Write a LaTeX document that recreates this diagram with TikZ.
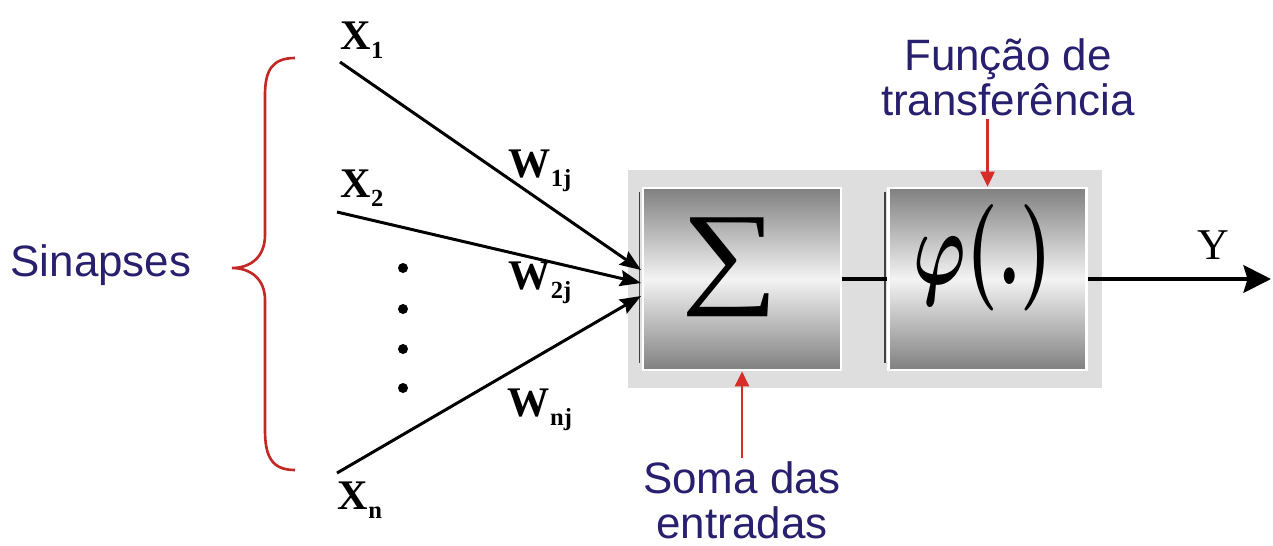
\documentclass[tikz,border=0pt]{standalone}
\usepackage{fontspec}
\setmainfont{Liberation Serif}
\newfontfamily\labfont{Liberation Sans}
\usetikzlibrary{arrows.meta}

\definecolor{navytext}{RGB}{40,32,110}
\definecolor{markred}{RGB}{215,45,40}
\definecolor{panelgray}{RGB}{222,222,222}
\definecolor{shadedark}{RGB}{128,128,128}
\definecolor{shadelight}{RGB}{243,243,243}
\newcommand{\wsub}[2]{#1\raisebox{-0.45ex}{\fontsize{14}{14}\selectfont #2}}

\begin{document}
\begin{tikzpicture}
\useasboundingbox (0,0) rectangle (25.46,-10.9);

\tikzset{
  blockbox/.style={draw=white, line width=1.5pt, minimum width=3.96cm, minimum height=3.64cm,
    top color=shadedark, bottom color=shadedark, middle color=shadelight},
  caption/.style={text=navytext, font=\labfont\fontsize{25}{25.5}\selectfont, align=center, inner sep=2pt},
  inlabel/.style={font=\fontsize{24}{24}\selectfont\bfseries},
  signal/.style={line width=1.7pt, -{Stealth[length=0.42cm, width=0.32cm, inset=0.06cm]}},
  pointer/.style={markred, line width=1.5pt, -{Triangle[length=0.3cm, width=0.28cm]}}
}

% 1. Grauer Hintergrund mit den beiden Bloecken
\fill[panelgray] (12.56,-3.40) rectangle (22.04,-7.76);
\node[blockbox] (sum) at (14.84,-5.58) {};
\node[blockbox] (phi) at (19.75,-5.58) {};
\draw[black!75, line width=0.8pt] ([shift={(-0.04,-0.1)}]sum.north west) -- ([shift={(-0.04,0.16)}]sum.south west);
\draw[black!75, line width=0.8pt] ([shift={(-0.04,-0.1)}]phi.north west) -- ([shift={(-0.04,0.16)}]phi.south west);
\node[inner sep=0pt] (sumsign) at (14.6,-5.34) {\resizebox*{1.94cm}{1.98cm}{\fontsize{40}{40}\selectfont ∑}};
\node[inner sep=0pt] (phisign) at (19.66,-5.16) {\resizebox*{2.77cm}{2.13cm}{\boldmath$\varphi(.)$}};

% 2. Verbindung und Ausgang
\coordinate (out) at (25.42,-5.58);
\draw[line width=2pt] (sum.east) -- (phi.west);
\draw[line width=2.3pt, -{Stealth[length=0.55cm, width=0.55cm, inset=0.08cm]}] (phi.east) -- (out);
\node[font=\fontsize{25}{25}\selectfont] (y) at (24.26,-4.9) {Y};

% 3. Eingaenge mit Gewichten
\node[inlabel] (x1) at (7.24,-0.8) {\wsub{X}{1}};
\node[inlabel] (x2) at (7.24,-3.76) {\wsub{X}{2}};
\node[inlabel] (xn) at (7.2,-10.0) {\wsub{X}{n}};
\coordinate (in1) at (6.8,-1.24);
\coordinate (in2) at (6.74,-4.24);
\coordinate (inn) at (6.74,-9.46);
\coordinate (tip1) at (12.82,-5.4);
\coordinate (tip2) at (12.82,-5.66);
\coordinate (tipn) at (12.82,-5.92);
\draw[signal] (in1) -- (tip1);
\draw[signal] (in2) -- (tip2);
\draw[signal] (inn) -- (tipn);
\node[inlabel] (w1) at (10.8,-3.42) {\wsub{W}{1j}};
\node[inlabel] (w2) at (10.8,-5.66) {\wsub{W}{2j}};
\node[inlabel] (wn) at (10.8,-8.2) {\wsub{W}{nj}};
\foreach \y in {-5.36,-6.18,-6.98,-7.76}
  \fill (8.06,\y) circle (0.1);

% 4. Geschweifte Klammer fuer die Synapsen
\draw[markred!90!black, line width=1.5pt] (5.9,-1.16) .. controls (5.45,-1.16) and (5.3,-1.4) .. (5.3,-1.9)
  -- (5.3,-4.7) .. controls (5.3,-5.15) and (5.0,-5.36) .. (4.64,-5.36)
  .. controls (5.0,-5.36) and (5.3,-5.57) .. (5.3,-6.0)
  -- (5.3,-8.6) .. controls (5.3,-9.15) and (5.45,-9.4) .. (5.9,-9.4);
\node[caption] (sinapses) at (2.02,-5.3) {Sinapses};

% 5. Beschriftungen mit roten Pfeilen
\node[caption] (transfer) at (20.16,-1.54) {Função de\\transferência};
\node[caption] (soma) at (14.84,-10.0) {Soma das\\entradas};
\draw[pointer] (transfer.south -| phi.north) -- (phi.north);
\draw[pointer] (soma.north) -- (sum.south);

\end{tikzpicture}
\end{document}
